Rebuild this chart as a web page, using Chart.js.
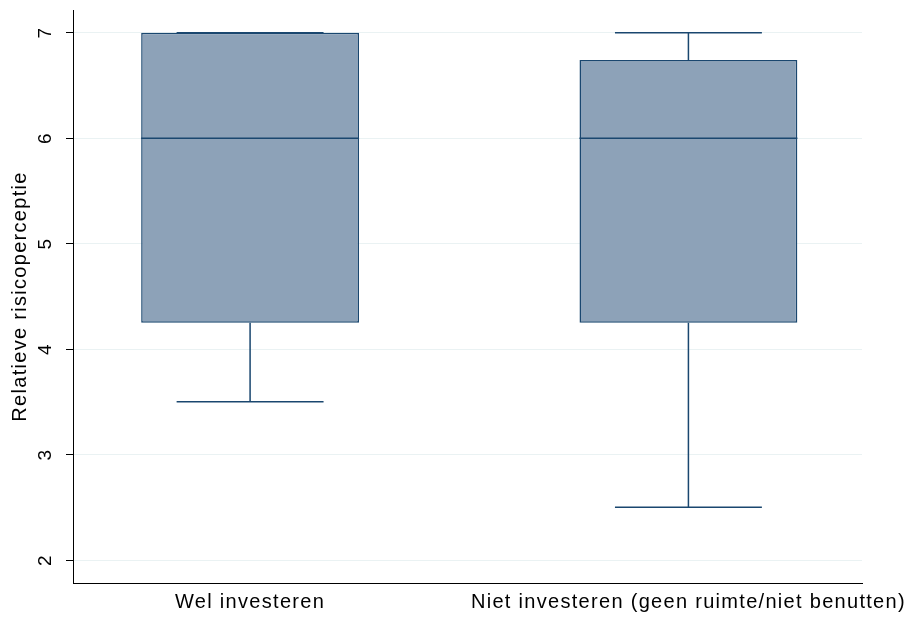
<!DOCTYPE html>
<html>
<head>
<meta charset="utf-8">
<script src="https://cdn.jsdelivr.net/npm/chart.js@4"></script>
<style>
  body { margin: 0; background: #fff; }
  #wrap { width: 907px; height: 618px; }
</style>
</head>
<body>
<div id="wrap"><canvas id="boxChart"></canvas></div>
<script>
// Box plot data
const groups = ["Wel investeren", "Niet investeren (geen ruimte/niet benutten)"];
const groupPos = [1, 2];
const whiskLow = [3.5, 2.5];
const q1 = [4.25, 4.25];
const median = [6, 6];
const q3 = [7, 6.74];
const whiskHigh = [7, 7];
const yTicks = [2, 3, 4, 5, 6, 7];

const navy = "#1a476f";
const boxFill = "#8da2b8";
const font = "'Liberation Sans', Arial, sans-serif";

const boxHalf = 0.2486;   // half box width in x units
const capHalf = 0.1676;   // half whisker cap width

function seg(x1, y1, x2, y2) {
  return {
    type: "line",
    data: [{ x: x1, y: y1 }, { x: x2, y: y2 }],
    borderColor: navy,
    borderWidth: 1.5,
    pointRadius: 0,
    fill: false,
    order: 0
  };
}

const lines = [];
groupPos.forEach((x, i) => {
  lines.push(seg(x - boxHalf, median[i], x + boxHalf, median[i]));
  lines.push(seg(x, q1[i], x, whiskLow[i]));
  lines.push(seg(x, q3[i], x, whiskHigh[i]));
  lines.push(seg(x - capHalf, whiskLow[i], x + capHalf, whiskLow[i]));
  lines.push(seg(x - capHalf, whiskHigh[i], x + capHalf, whiskHigh[i]));
});

// Stata-like wide text spacing
const spacing = {
  id: "spacing",
  beforeLayout: c => { c.ctx.letterSpacing = "1.3px"; },
  beforeDraw: c => { c.ctx.letterSpacing = "1.3px"; }
};

const ctx = document.getElementById("boxChart").getContext("2d");

new Chart(ctx, {
  type: "bar",
  data: {
    datasets: [{
      type: "bar",
      data: groupPos.map((x, i) => ({ x: x, y: [q1[i], q3[i]] })),
      backgroundColor: boxFill,
      borderColor: navy,
      borderWidth: 1.5,
      borderSkipped: false,
      barPercentage: 0.497,
      categoryPercentage: 1,
      order: 1
    }, ...lines]
  },
  plugins: [spacing],
  options: {
    responsive: true,
    maintainAspectRatio: false,
    animation: false,
    layout: { padding: { top: 10, right: 45, left: 0, bottom: 0 } },
    plugins: { legend: { display: false }, tooltip: { enabled: false } },
    scales: {
      x: {
        type: "linear",
        min: 0.596,
        max: 2.396,
        offset: false,
        afterBuildTicks: s => { s.ticks = groupPos.map(v => ({ value: v })); },
        afterFit: s => { s.height = 35; s.paddingLeft = 0; s.paddingRight = 0; },
        grid: { display: false, drawTicks: false },
        border: { display: true, color: "#000", width: 1 },
        ticks: {
          color: "#000",
          font: { family: font, size: 20 },
          padding: 7,
          maxRotation: 0,
          autoSkip: false,
          callback: v => groups[groupPos.indexOf(v)]
        }
      },
      y: {
        min: 1.782,
        max: 7.215,
        afterBuildTicks: s => { s.ticks = yTicks.map(v => ({ value: v })); },
        afterFit: s => { s.width = 73; s.paddingTop = 0; s.paddingBottom = 0; },
        grid: { color: "#eaf2f3", tickColor: "#000", tickLength: 7, lineWidth: 1 },
        border: { display: true, color: "#000", width: 1 },
        ticks: {
          color: "#000",
          font: { family: font, size: 19 },
          minRotation: 90,
          maxRotation: 90,
          crossAlign: "center",
          padding: 14
        },
        title: {
          display: true,
          text: "Relatieve risicoperceptie",
          color: "#000",
          font: { family: font, size: 20 },
          padding: { top: 8, bottom: 0 }
        }
      }
    }
  }
});
</script>
</body>
</html>
